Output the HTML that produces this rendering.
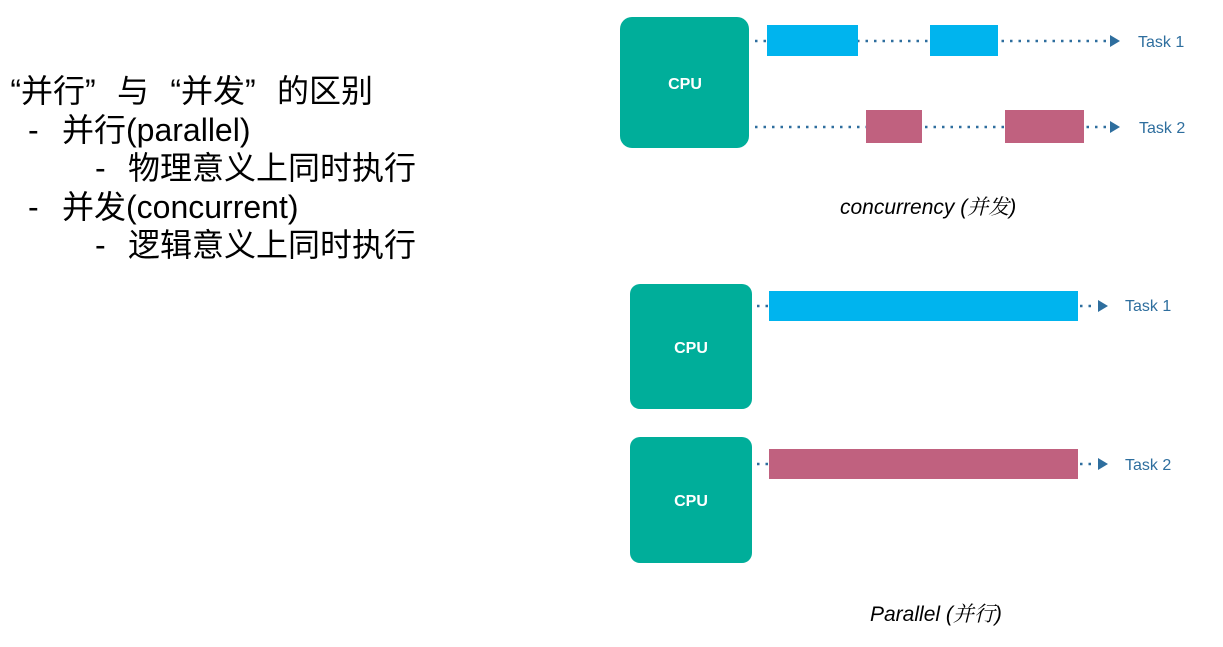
<!DOCTYPE html>
<html><head><meta charset="utf-8"><style>
body{margin:0;width:1223px;height:647px;background:#fff;position:relative;overflow:hidden;font-family:"Liberation Sans","Noto Sans CJK SC",sans-serif}
.t{position:absolute;font-size:32px;color:#000;white-space:nowrap;line-height:1}
.q{display:inline-block;width:32px}
.qo{display:inline-block;width:32px;text-align:right}
.cap{position:absolute;font-size:21px;font-style:italic;color:#000;white-space:nowrap;line-height:1}
</style></head><body>
<div class="t" style="left:-11px;top:75px"><span class="qo">“</span>并行<span class="q">”</span>与<span class="qo">“</span>并发<span class="q">”</span>的区别</div>
<div class="t" style="left:28px;top:114px">-</div><div class="t" style="left:62px;top:114px">并行(parallel)</div>
<div class="t" style="left:95px;top:152px">-</div><div class="t" style="left:128px;top:152px">物理意义上同时执行</div>
<div class="t" style="left:28px;top:191px">-</div><div class="t" style="left:62px;top:191px">并发(concurrent)</div>
<div class="t" style="left:95px;top:229px">-</div><div class="t" style="left:128px;top:229px">逻辑意义上同时执行</div>

<svg width="1223" height="647" style="position:absolute;left:0;top:0" font-family="Liberation Sans, sans-serif">
<g fill="#00AE9A">
<rect x="620" y="17" width="129" height="131" rx="12"/>
<rect x="630" y="284" width="122" height="125" rx="10"/>
<rect x="630" y="437" width="122" height="126" rx="10"/>
</g>
<g fill="#fff" font-weight="bold" font-size="16" text-anchor="middle">
<text x="685" y="89">CPU</text>
<text x="691" y="353">CPU</text>
<text x="691" y="506">CPU</text>
</g>
<g stroke="#2E6E9E" stroke-width="2.5" stroke-dasharray="2.5,6">
<line x1="755" y1="41" x2="1108" y2="41"/>
<line x1="755" y1="127" x2="1108" y2="127"/>
<line x1="757" y1="306" x2="1095" y2="306"/>
<line x1="757" y1="464" x2="1095" y2="464"/>
</g>
<g fill="#00B4EE">
<rect x="767" y="25" width="91" height="31"/>
<rect x="930" y="25" width="68" height="31"/>
<rect x="769" y="291" width="309" height="30"/>
</g>
<g fill="#C0617F">
<rect x="866" y="110" width="56" height="33"/>
<rect x="1005" y="110" width="79" height="33"/>
<rect x="769" y="449" width="309" height="30"/>
</g>
<g fill="#2E6E9E">
<polygon points="1110,35 1120,41 1110,47"/>
<polygon points="1110,121 1120,127 1110,133"/>
<polygon points="1098,300 1108,306 1098,312"/>
<polygon points="1098,458 1108,464 1098,470"/>
</g>
<g fill="#2E6E9E" font-size="16">
<text x="1138" y="47">Task 1</text>
<text x="1139" y="133">Task 2</text>
<text x="1125" y="311">Task 1</text>
<text x="1125" y="470">Task 2</text>
</g>
</svg>
<div class="cap" style="left:840px;top:196px">concurrency (<span style="font-family:'Noto Serif CJK SC',serif">并发</span>)</div>
<div class="cap" style="left:870px;top:603px">Parallel (<span style="font-family:'Noto Serif CJK SC',serif">并行</span>)</div>
</body></html>
